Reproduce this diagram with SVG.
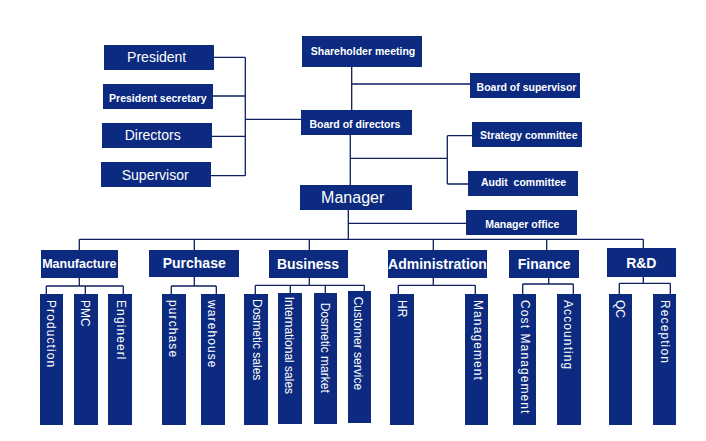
<svg xmlns="http://www.w3.org/2000/svg" width="706" height="441" viewBox="0 0 706 441">
<style>
.b{fill:#0b2a80}
.t{fill:#ffffff;font-family:"Liberation Sans",Arial,sans-serif;text-anchor:middle}
.r{font-size:14px}
.s{font-size:10.5px;font-weight:bold}
.d{font-size:14px;font-weight:bold}
.v{fill:#ffffff;font-family:"Liberation Sans",Arial,sans-serif;font-size:12px}
.ls{letter-spacing:1.1px}
.c{fill:none;stroke:#0d1f5e;stroke-width:1.3}
</style>
<rect width="706" height="441" fill="#ffffff"/>
<g id="connectors" class="c">
<path d="M214,57.3H245.3M213,96H245.3M212,136.3H245.3M211,175.7H245.3M245.3,57.3V175.7M245.3,119.3H301"/>
<path d="M351.7,67V110M351.7,84H470M350.3,135V185M350.3,158.3H447.3M447.3,135.7V184M447.3,135.7H472M447.3,184H468"/>
<path d="M348.3,210V239.3M348.3,223.3H466M79.3,239.3H643.3M79.3,239.3V250M194.3,239.3V250M309.3,239.3V250M433.3,239.3V250M546.7,239.3V250M643.3,239.3V248"/>
<path d="M79.3,278V286M46.3,286H123.3M46.3,286V294M85.3,286V294M123.3,286V294"/>
<path d="M194.3,277V286M171.3,286H216.3M171.3,286V294M216.3,286V294"/>
<path d="M309.3,278V285.3M255.3,285.3H364.3M255.3,285.3V294M290.3,285.3V293M325.3,285.3V293M364.3,285.3V291"/>
<path d="M433.3,278V285.3M398.3,285.3H475.3M398.3,285.3V294M475.3,285.3V294"/>
<path d="M548.7,278V284M522.7,284H573.3M522.7,284V294M573.3,284V294"/>
<path d="M643.3,277V283.3M619.3,283.3H670.3M619.3,283.3V294M670.3,283.3V294"/>
</g>
<g id="president"><rect class="b" x="104" y="45" width="110" height="25"/><text class="t r" x="156.7" y="61.7">President</text></g>
<g id="president-secretary"><rect class="b" x="103" y="84" width="110" height="25"/><text class="t s" x="157.8" y="102">President secretary</text></g>
<g id="directors"><rect class="b" x="102" y="123" width="110" height="25"/><text class="t r" x="152.7" y="140">Directors</text></g>
<g id="supervisor"><rect class="b" x="101" y="162" width="110" height="25"/><text class="t r" x="155.2" y="179.5">Supervisor</text></g>
<g id="shareholder-meeting"><rect class="b" x="302" y="36" width="120" height="31"/><text class="t s" x="363" y="55">Shareholder meeting</text></g>
<g id="board-of-supervisor"><rect class="b" x="470" y="73" width="110" height="25"/><text class="t s" x="526.5" y="90.5">Board of supervisor</text></g>
<g id="board-of-directors"><rect class="b" x="301" y="110" width="111" height="25"/><text class="t s" x="354.9" y="127.5">Board of directors</text></g>
<g id="strategy-committee"><rect class="b" x="472" y="122" width="110" height="25"/><text class="t s" x="528.8" y="139">Strategy committee</text></g>
<g id="audit-committee"><rect class="b" x="468" y="171" width="110" height="25"/><text class="t s" x="523.5" y="185.5" style="white-space:pre" xml:space="preserve">Audit  committee</text></g>
<g id="manager"><rect class="b" x="300" y="185" width="112" height="25"/><text class="t" style="font-size:16px" x="352.7" y="202.5">Manager</text></g>
<g id="manager-office"><rect class="b" x="466" y="210" width="111" height="25"/><text class="t s" x="522.3" y="228">Manager office</text></g>
<g id="manufacture"><rect class="b" x="41" y="250" width="77" height="28"/><text class="t" style="font-size:12.5px;font-weight:bold" x="79.3" y="267.5">Manufacture</text></g>
<g id="purchase-dept"><rect class="b" x="149" y="250" width="90" height="27"/><text class="t d" x="194.2" y="267.5">Purchase</text></g>
<g id="business"><rect class="b" x="269" y="250" width="79" height="28"/><text class="t d" x="308" y="269">Business</text></g>
<g id="administration"><rect class="b" x="388" y="250" width="99" height="28"/><text class="t d" x="437.5" y="269">Administration</text></g>
<g id="finance"><rect class="b" x="509" y="250" width="70" height="28"/><text class="t d" x="544.2" y="269">Finance</text></g>
<g id="rd"><rect class="b" x="607" y="248" width="69" height="29"/><text class="t d" x="641.3" y="267.5">R&amp;D</text></g>
<g id="production"><rect class="b" x="40" y="294" width="23" height="131"/><text class="v ls" transform="translate(46.5,300) rotate(90)">Production</text></g>
<g id="pmc"><rect class="b" x="74" y="294" width="24" height="131"/><text class="v" transform="translate(81,300) rotate(90)">PMC</text></g>
<g id="engineerl"><rect class="b" x="108" y="294" width="24" height="131"/><text class="v ls" transform="translate(116.5,300) rotate(90)">Engineerl</text></g>
<g id="purchase"><rect class="b" x="162" y="294" width="24" height="131"/><text class="v ls" transform="translate(168.5,300) rotate(90)">purchase</text></g>
<g id="warehouse"><rect class="b" x="201" y="294" width="24" height="131"/><text class="v ls" transform="translate(208,300) rotate(90)">warehouse</text></g>
<g id="dosmetic-sales"><rect class="b" x="244" y="294" width="24" height="131"/><text class="v" transform="translate(252.5,299) rotate(90)">Dosmetic sales</text></g>
<g id="international-sales"><rect class="b" x="278" y="293" width="24" height="131"/><text class="v" transform="translate(284.5,296.7) rotate(90)">International sales</text></g>
<g id="dosmetic-market"><rect class="b" x="314" y="293" width="23" height="131"/><text class="v" transform="translate(321,302.7) rotate(90)">Dosmetic market</text></g>
<g id="customer-service"><rect class="b" x="348" y="291" width="23" height="132"/><text class="v" transform="translate(354,296.7) rotate(90)">Customer service</text></g>
<g id="hr"><rect class="b" x="390" y="294" width="24" height="131"/><text class="v" transform="translate(397.5,300) rotate(90)">HR</text></g>
<g id="management"><rect class="b" x="465" y="294" width="23" height="131"/><text class="v ls" transform="translate(474,300) rotate(90)">Management</text></g>
<g id="cost-management"><rect class="b" x="513" y="294" width="23" height="131"/><text class="v ls" transform="translate(521,300) rotate(90)">Cost Management</text></g>
<g id="accounting"><rect class="b" x="557" y="294" width="24" height="131"/><text class="v ls" transform="translate(563.5,300) rotate(90)">Accounting</text></g>
<g id="qc"><rect class="b" x="609" y="294" width="23" height="131"/><text class="v" transform="translate(616,300) rotate(90)">QC</text></g>
<g id="reception"><rect class="b" x="653" y="294" width="23" height="131"/><text class="v ls" transform="translate(661,300) rotate(90)">Reception</text></g>
</svg>
